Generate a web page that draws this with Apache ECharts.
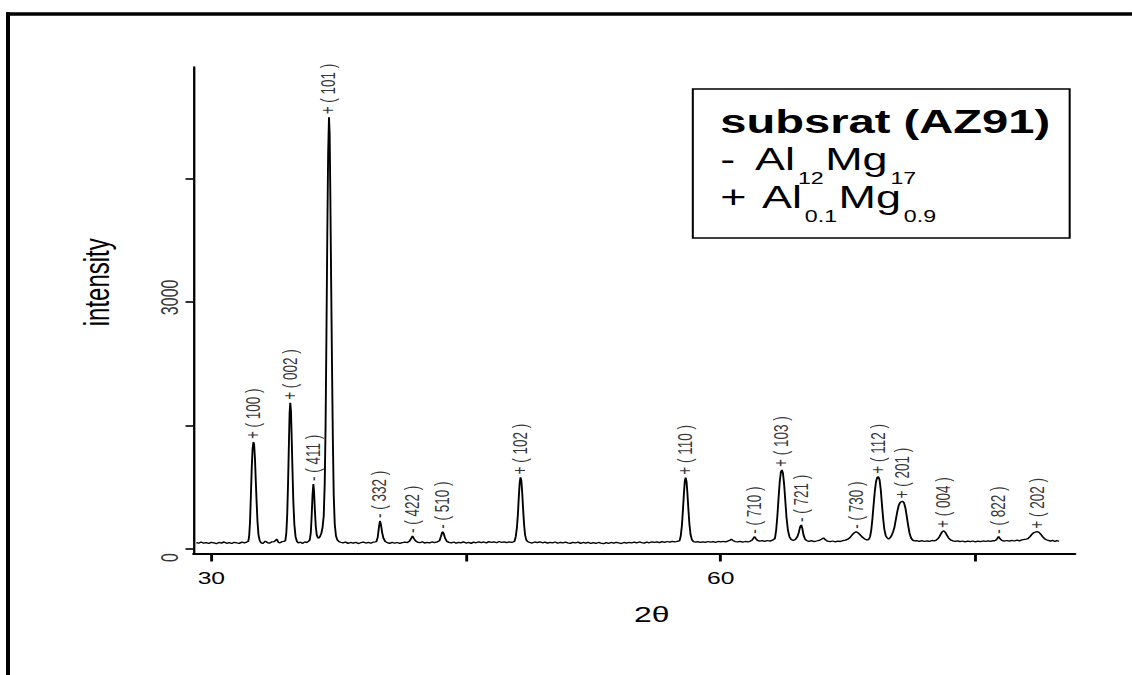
<!DOCTYPE html>
<html>
<head>
<meta charset="utf-8">
<script src="https://cdn.jsdelivr.net/npm/echarts@6/dist/echarts.min.js"></script>
<style>
html,body{margin:0;padding:0;background:#fff;overflow:hidden;width:1132px;height:675px}
#c{width:781px;height:675px;transform:scaleX(1.44942);transform-origin:0 0}
</style>
</head>
<body>
<div id="c"></div>
<script>
// ---- data ----
const scanPoints = [
[29.12,78],[29.25,70],[29.4,84],[29.55,70],[29.7,77],[29.85,66],[30.0,81],[30.15,73],[30.3,64],[30.45,79],[30.6,71],[30.75,86],[30.9,69],[31.05,77],[31.2,66],[31.35,81],[31.5,73],[31.65,68],[31.8,83],[31.95,75],[32.08,84],
[32.18,95],[32.23,160],[32.28,330],[32.33,650],[32.38,980],[32.43,1220],[32.48,1300],[32.52,1270],[32.57,1100],[32.62,820],[32.67,560],[32.72,330],[32.78,170],[32.85,100],[32.93,76],
[33.02,66],[33.1,80],[33.18,96],[33.3,78],[33.42,70],[33.55,85],[33.7,90],[33.86,118],[33.95,80],[34.05,74],[34.15,88],[34.27,92],
[34.36,100],[34.42,200],[34.47,420],[34.52,800],[34.57,1280],[34.61,1650],[34.65,1777],[34.69,1680],[34.73,1380],[34.78,960],[34.83,580],[34.89,300],[34.96,150],[35.04,92],
[35.12,74],[35.25,83],[35.38,68],[35.5,86],[35.62,78],[35.72,92],
[35.8,110],[35.86,200],[35.91,400],[35.96,650],[36.01,790],[36.05,700],[36.1,470],[36.15,280],[36.21,170],[36.27,140],[36.32,130],[36.4,150],[36.48,190],[36.55,260],
[36.62,400],[36.68,800],[36.73,1500],[36.78,2600],[36.83,3800],[36.88,4800],[36.93,5247],[36.97,5050],[37.01,4300],[37.06,3200],[37.11,2200],[37.16,1300],[37.21,650],[37.27,300],[37.34,160],[37.42,110],[37.52,90],
[37.62,82],[37.75,74],[37.9,84],[38.05,68],[38.2,79],[38.35,71],[38.5,81],[38.65,66],[38.8,76],[38.95,84],[39.1,72],[39.25,81],[39.4,70],[39.55,84],[39.65,86],
[39.72,90],[39.8,140],[39.87,260],[39.93,340],[39.99,300],[40.06,200],[40.14,130],[40.24,92],
[40.36,78],[40.5,68],[40.65,80],[40.8,70],[40.95,79],[41.1,68],[41.25,77],[41.4,83],[41.55,78],[41.68,96],
[41.76,125],[41.85,158],[41.93,128],[42.02,100],[42.14,84],[42.28,76],[42.42,87],[42.56,72],[42.7,81],[42.85,74],[43.0,85],[43.15,77],[43.3,86],[43.44,100],
[43.52,150],[43.58,190],[43.63,210],[43.69,185],[43.77,130],[43.88,92],[44.0,80],[44.14,74],
[44.28,85],[44.42,70],[44.56,81],[44.7,74],[44.85,86],[45.0,72],[45.15,81],[45.3,68],[45.45,83],[45.6,75],[45.75,87],[45.9,77],[46.05,85],[46.2,74],[46.35,89],[46.5,79],[46.65,86],[46.8,76],[46.95,91],[47.1,79],[47.25,87],[47.4,77],[47.55,85],[47.7,80],[47.8,88],
[47.86,95],[47.93,150],[48.0,260],[48.06,430],[48.11,630],[48.16,800],[48.21,870],[48.26,830],[48.31,690],[48.36,500],[48.42,300],[48.48,170],[48.55,110],[48.64,88],
[48.75,80],[48.9,72],[49.05,85],[49.2,77],[49.35,87],[49.5,75],[49.65,83],[49.8,72],[49.95,81],[50.1,75],[50.25,85],[50.4,70],[50.55,81],[50.7,73],[50.85,83],[51.0,75],[51.15,68],[51.3,81],[51.45,73],[51.6,83],[51.75,68],[51.9,79],[52.05,71],[52.2,81],[52.35,66],[52.5,77],[52.65,69],[52.8,79],[52.95,71],[53.1,64],[53.25,77],[53.4,69],[53.55,79],[53.7,71],[53.85,81],[54.0,73],[54.15,66],[54.3,79],[54.45,71],[54.6,81],[54.75,73],[54.9,83],[55.05,75],[55.2,85],[55.35,77],[55.5,71],[55.65,83],[55.8,75],[55.95,87],[56.1,79],[56.25,85],[56.4,77],[56.55,89],[56.7,81],[56.85,91],[57.0,83],[57.15,93],[57.3,85],[57.45,94],[57.52,96],
[57.58,100],[57.65,160],[57.72,290],[57.78,480],[57.84,690],[57.89,830],[57.94,866],[57.99,820],[58.04,680],[58.1,480],[58.16,300],[58.23,170],[58.31,110],[58.4,90],
[58.52,82],[58.66,89],[58.8,79],[58.95,87],[59.1,81],[59.25,91],[59.4,83],[59.55,89],[59.7,81],[59.85,91],[60.0,85],[60.15,93],[60.3,87],[60.45,98],[60.55,106],[60.63,118],[60.72,104],[60.85,90],[61.0,85],[61.15,93],[61.3,83],[61.45,91],[61.6,85],[61.75,96],[61.86,108],
[61.93,130],[62.0,150],[62.07,126],[62.17,104],[62.3,95],[62.45,101],[62.6,93],[62.75,103],[62.9,95],[63.02,104],[63.12,115],
[63.2,130],[63.27,230],[63.34,400],[63.41,620],[63.48,820],[63.55,940],[63.61,960],[63.67,920],[63.74,780],[63.81,580],[63.88,380],[63.96,230],[64.05,150],[64.15,115],[64.28,105],[64.4,115],[64.52,150],
[64.6,200],[64.68,270],[64.75,292],[64.81,250],[64.88,170],[64.97,120],[65.08,100],[65.2,92],[65.35,101],[65.5,89],[65.65,97],[65.8,104],[65.93,118],[66.06,134],[66.17,112],[66.3,95],[66.45,89],[66.6,97],[66.75,87],[66.9,95],[67.05,91],[67.2,101],[67.35,108],
[67.5,120],[67.62,140],[67.74,170],[67.86,195],[67.98,210],[68.1,195],[68.22,170],[68.34,145],[68.46,125],[68.58,112],[68.68,110],[68.75,125],
[68.8,150],[68.87,230],[68.94,370],[69.01,540],[69.08,700],[69.15,820],[69.22,870],[69.29,878],[69.36,840],[69.43,720],[69.5,540],[69.57,370],[69.64,240],[69.72,165],[69.8,135],[69.9,121],
[70.0,140],[70.08,170],[70.16,210],[70.24,270],[70.32,360],[70.4,450],[70.48,525],[70.56,562],[70.64,575],[70.72,578],[70.8,560],[70.88,500],[70.96,400],[71.04,290],[71.12,195],[71.21,135],[71.31,108],[71.42,98],
[71.55,101],[71.7,93],[71.85,101],[72.0,91],[72.15,99],[72.3,93],[72.45,103],[72.58,99],
[72.7,108],[72.8,125],[72.9,155],[73.0,195],[73.08,215],[73.14,219],[73.22,205],[73.32,170],[73.42,135],[73.54,110],[73.68,98],
[73.82,93],[73.96,99],[74.1,89],[74.25,97],[74.4,87],[74.55,95],[74.7,89],[74.85,97],[75.0,87],[75.15,95],[75.3,89],[75.45,97],[75.6,91],[75.75,99],[75.9,93],[76.05,101],[76.14,100],
[76.22,108],[76.3,130],[76.37,150],[76.45,125],[76.56,104],
[76.7,96],[76.85,103],[77.0,95],[77.15,105],[77.3,97],[77.45,107],[77.6,99],[77.75,110],[77.9,116],[78.0,120],
[78.1,125],[78.22,150],[78.34,180],[78.46,200],[78.58,208],[78.67,210],[78.76,200],[78.86,178],[78.96,150],[79.06,128],[79.18,112],[79.3,104],[79.42,95],[79.55,105],[79.68,91],[79.8,101],[79.94,94]
];

const peakTheta = [32.48, 34.65, 36.01, 36.93, 39.93, 41.85, 43.63, 48.21, 57.94, 62.0, 63.61, 64.75, 67.98, 69.29, 70.72, 73.14, 76.37, 78.67];
const peakIntensity = [1300, 1777, 790, 5247, 340, 158, 210, 870, 866, 150, 960, 292, 210, 878, 578, 219, 150, 210];
const peakLabels = ['+ ( 100 )','+ ( 002 )','- ( 411 )','+ ( 101 )','- ( 332 )','- ( 422 )','- ( 510 )','+ ( 102 )','+ ( 110 )','- ( 710 )','+ ( 103 )','- ( 721 )','- ( 730 )','+ ( 112 )','+ ( 201 )','+ ( 004 )','- ( 822 )','+ ( 202 )'];

const xTickValues = [30, 45, 60, 75];
const xTickLabelValues = [30, 60];
const yTickValues = [0, 1500, 3000, 4500];
const yTickLabelValues = [0, 3000];

const xMin = 28.95, xMax = 80.87;
const yMin = -55, yMax = 5858;

const xAxisName = '2θ';
const yAxisName = 'intensity';
const legendTitle = 'subsrat (AZ91)';
const legendPhase1 = ['- ', 'Al', '12', 'Mg', '17'];
const legendPhase2 = ['+ ', 'Al', '0.1', 'Mg', '0.9'];

// ---- chart ----
const FONT = "'Liberation Sans', Arial, Helvetica, sans-serif";
const chart = echarts.init(document.getElementById('c'), null, {renderer: 'svg'});

const mainTok = {fontSize: 31, fontFamily: FONT, color: '#000', verticalAlign: 'bottom', lineHeight: 38};
const richLegend = {
  d: Object.assign({}, mainTok, {padding: [0, 5, 12, 0]}),
  p: Object.assign({}, mainTok, {padding: [0, 2, 12, 0]}),
  m: Object.assign({}, mainTok, {padding: [0, 0, 12, 0]}),
  s: {fontSize: 16, fontFamily: FONT, color: '#000', verticalAlign: 'bottom', lineHeight: 38, padding: [0, 1, 0, 2]}
};
function phaseText(ph, pre) {
  return '{' + pre + '|' + ph[0] + '}{m|' + ph[1] + '}{s|' + ph[2] + '}{m|' + ph[3] + '}{s|' + ph[4] + '}';
}

const option = {
  animation: false,
  backgroundColor: '#fff',
  grid: {left: 133.5, right: 39.33, top: 67, bottom: 121.5, containLabel: false, outerBoundsMode: 'none'},
  xAxis: {
    type: 'value', min: xMin, max: xMax,
    name: xAxisName, nameLocation: 'middle', nameGap: 50, nameMoveOverlap: false,
    nameTextStyle: {fontFamily: FONT, fontSize: 22, color: '#000', padding: [0, 0, 0, 24]},
    axisLine: {show: true, onZero: false, lineStyle: {color: '#000', width: 2}},
    axisTick: {show: true, customValues: xTickValues, length: 8, lineStyle: {color: '#000', width: 2}},
    axisLabel: {show: true, customValues: xTickLabelValues, margin: 16, fontFamily: FONT, fontSize: 17, color: '#000'},
    splitLine: {show: false}
  },
  yAxis: {
    type: 'value', min: yMin, max: yMax,
    name: yAxisName, nameLocation: 'middle', nameGap: 55, nameMoveOverlap: false,
    nameTextStyle: {fontFamily: FONT, fontSize: 24, color: '#000', padding: [0, 0, 0, 56]},
    axisLine: {show: true, onZero: false, lineStyle: {color: '#000', width: 1.6}},
    axisTick: {show: true, customValues: yTickValues, length: 5.5, lineStyle: {color: '#000', width: 1.6}},
    axisLabel: {show: false},
    splitLine: {show: false}
  },
  series: [
    {
      type: 'line', data: scanPoints, showSymbol: false, symbol: 'none', silent: true,
      lineStyle: {color: '#000', width: 1.3}, emphasis: {disabled: true}, z: 2
    },
    {
      type: 'scatter', silent: true, symbolSize: 0, emphasis: {disabled: true},
      data: peakTheta.map((t, i) => [t, peakIntensity[i]]),
      label: {
        show: true, position: 'top', distance: 3, rotate: 90, align: 'left', verticalAlign: 'middle',
        fontFamily: FONT, fontSize: 13.5, color: '#000',
        formatter: p => peakLabels[p.dataIndex]
      }
    },
    {
      type: 'scatter', silent: true, symbolSize: 0, emphasis: {disabled: true}, clip: false,
      data: yTickLabelValues.map(v => [xMin, v]),
      label: {
        show: true, position: 'inside', rotate: 90, align: 'left', verticalAlign: 'middle',
        offset: [-13, -16], fontFamily: FONT, fontSize: 16, color: '#000',
        formatter: p => String(yTickLabelValues[p.dataIndex])
      }
    }
  ],
  graphic: {
    elements: [
      {type: 'line', silent: true, shape: {x1: 5.52, y1: 12.3, x2: 5.52, y2: 675}, style: {stroke: '#000', lineWidth: 2.76}},
      {type: 'line', silent: true, shape: {x1: 4.14, y1: 14, x2: 781, y2: 14}, style: {stroke: '#000', lineWidth: 3.4}},
      {type: 'rect', silent: true, shape: {x: 478, y: 89, width: 260, height: 149}, style: {fill: '#fff', stroke: '#000', lineWidth: 1.4}, z: 10},
      {type: 'text', silent: true, x: 497, y: 138.2, z: 11,
        style: {text: legendTitle, fontSize: 32.5, fontWeight: 'bold', fontFamily: FONT, fill: '#000', align: 'left', verticalAlign: 'bottom'}},
      {type: 'text', silent: true, x: 497, y: 148.8, z: 11,
        style: {text: phaseText(legendPhase1, 'd') + '\n' + phaseText(legendPhase2, 'p'), rich: richLegend,
          fontFamily: FONT, fill: '#000', align: 'left', verticalAlign: 'top'}}
    ]
  }
};
chart.setOption(option);
</script>
</body>
</html>
